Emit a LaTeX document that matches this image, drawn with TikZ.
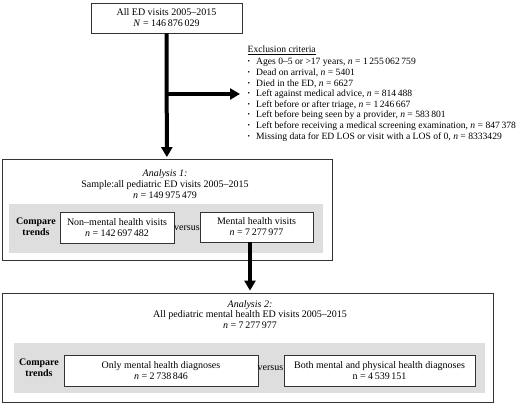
\documentclass[tikz,border=0pt]{standalone}
\usepackage{fontspec}
\setmainfont{Liberation Serif}
\usetikzlibrary{arrows.meta,positioning}

\tikzset{
	box/.style = {draw=black!80, line width=0.8pt, fill=white, inner sep=0pt, align=center},
	panel/.style = {fill=black!13, inner sep=0pt},
	txt/.style = {inner sep=0pt, align=center},
	lbl/.style = {txt, font=\fontsize{10}{11}\selectfont\bfseries},
	flow/.style = {line width=4pt, -{Triangle[length=10pt,width=11pt]}}
}
\newcommand{\nn}{\textit{n}}
\newcommand{\dotitem}{\makebox[8.5pt][l]{\raisebox{0.2ex}{\scalebox{0.7}{\textbullet}}}}

\begin{document}
\begin{tikzpicture}[x=1pt,y=-1pt,font=\fontsize{10}{11}\selectfont]
	\useasboundingbox (0,0) rectangle (520,403);

	\node[box, minimum width=151, minimum height=30] (all) at (166.5,18)
		{All ED visits 2005--2015\\ \textit{N} = 146\,876\,029};

	\node[txt, align=left, anchor=north west, font=\fontsize{9.6}{10.6}\selectfont] (excl) at (247.5,46)
		{\underline{Exclusion criteria}\\[1.4pt]
		\dotitem Ages 0--5 or >17 years, \nn{} = 1\,255\,062\,759\\
		\dotitem Dead on arrival, \nn{} = 5401\\
		\dotitem Died in the ED, \nn{} = 6627\\
		\dotitem Left against medical advice, \nn{} = 814\,488\\
		\dotitem Left before or after triage, \nn{} = 1\,246\,667\\
		\dotitem Left before being seen by a provider, \nn{} = 583\,801\\
		\dotitem Left before receiving a medical screening examination, \nn{} = 847\,378\\
		\dotitem Missing data for ED LOS or visit with a LOS of 0, \nn{} = 8333429};

	% analysis 1
	\node[box, minimum width=330, minimum height=101] (an1) at (167,209.5) {};
	\node[txt] (an1head) at (165,184)
		{\textit{Analysis 1:}\\ Sample:all pediatric ED visits 2005--2015\\ \nn{} = 149\,975\,479};
	\node[panel, minimum width=314, minimum height=49] (pan1) at (166,228.5) {};
	\node[lbl] (cmp1) at (36,227) {Compare\\ trends};
	\node[box, minimum width=114, minimum height=31] (nonmh) at (117,228)
		{Non--mental health visits\\ \nn{} = 142\,697\,482};
	\node[txt] (vs1) at (187,228) {versus};
	\node[box, minimum width=113, minimum height=30] (mh) at (256.5,227)
		{Mental health visits\\ \nn{} = 7\,277\,977};

	% analysis 2
	\node[box, minimum width=491, minimum height=109] (an2) at (247.5,347.5) {};
	\node[txt, font=\fontsize{10}{10.6}\selectfont] (an2head) at (250,314.5)
		{\textit{Analysis 2:}\\ All pediatric mental health ED visits 2005--2015\\ \nn{} = 7\,277\,977};
	\node[panel, minimum width=471, minimum height=50] (pan2) at (249.5,368) {};
	\node[lbl] (cmp2) at (39,368) {Compare\\ trends};
	\node[box, minimum width=194, minimum height=31] (only) at (161,370.5)
		{Only mental health diagnoses\\ \nn{} = 2\,738\,846};
	\node[txt] (vs2) at (270.5,368) {versus};
	\node[box, minimum width=191, minimum height=31] (both) at (379.5,370.5)
		{Both mental and physical health diagnoses\\ n = 4\,539\,151};

	% arrows
	\coordinate (split) at (166.5,94);
	\coordinate (mhout) at ([xshift=-6.5]mh.south);
	\draw[flow, shorten >=1.5pt] (all) -- (an1);
	\draw[flow, shorten >=7.5pt] (split) -- (split -| excl.west);
	\draw[flow, shorten >=2pt] (mhout) -- (mhout |- an2.north);
\end{tikzpicture}
\end{document}
